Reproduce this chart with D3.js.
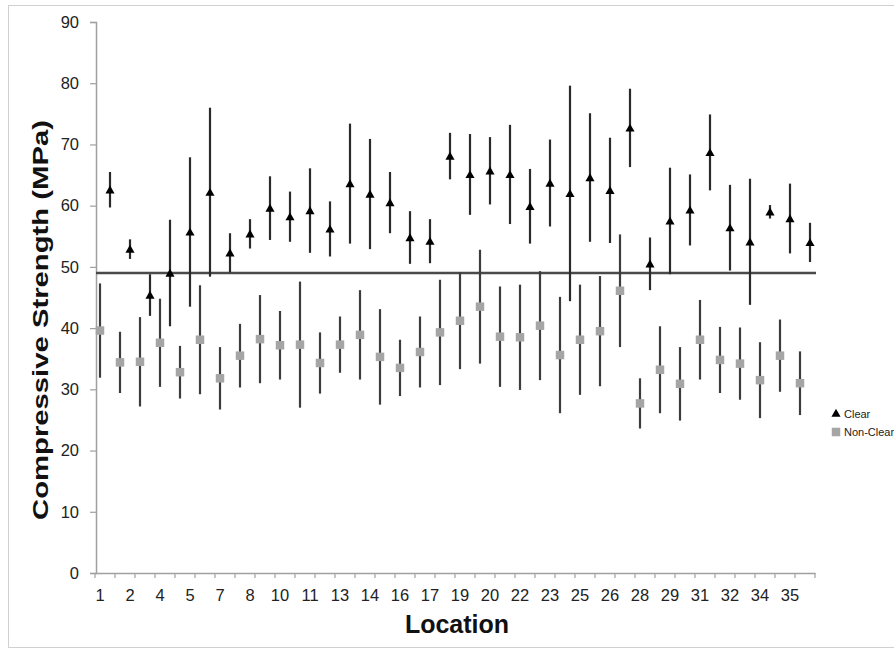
<!DOCTYPE html>
<html>
<head>
<meta charset="utf-8">
<script src="https://cdn.jsdelivr.net/npm/d3@7"></script>
<style>
  body { margin: 0; background: #fff; }
  svg text { font-family: "Liberation Sans", Arial, sans-serif; }
</style>
</head>
<body>
<div class="canvas"></div>
<script>
// location numbers
const locations = [1, 2, 3, 4, 5, 6, 7, 8, 9, 10, 11, 12, 13, 14, 15, 16, 17, 18,
    19, 20, 21, 22, 23, 24, 25, 26, 27, 28, 29, 30, 31, 32, 33, 34, 35, 36];

// clear specimens: mean and +/- error (MPa)
const clearMean = [62.6, 52.9, 45.4, 49.0, 55.7, 62.2, 52.3, 55.4, 59.6, 58.2, 59.2, 56.2,
    63.6, 61.9, 60.5, 54.8, 54.2, 68.1, 65.1, 65.7, 65.1, 59.9, 63.7, 62.0,
    64.6, 62.5, 72.7, 50.5, 57.5, 59.3, 68.7, 56.4, 54.1, 59.0, 57.9, 54.0];
const clearErr = [2.9, 1.6, 3.4, 8.7, 12.2, 13.8, 3.2, 2.4, 5.2, 4.1, 6.9, 4.5,
    9.8, 9.0, 5.0, 4.3, 3.6, 3.8, 6.6, 5.5, 8.1, 6.1, 7.1, 17.6,
    10.5, 8.6, 6.4, 4.3, 8.7, 5.8, 6.2, 7.0, 10.3, 1.1, 5.7, 3.2];

// non-clear specimens
const nonClearMean = [39.6, 34.4, 34.5, 37.6, 32.8, 38.1, 31.8, 35.5, 38.2, 37.2, 37.3, 34.3,
    37.3, 38.9, 35.3, 33.5, 36.1, 39.3, 41.2, 43.5, 38.6, 38.5, 40.4, 35.6,
    38.1, 39.5, 46.1, 27.7, 33.2, 30.9, 38.1, 34.8, 34.2, 31.5, 35.5, 31.0];
const nonClearErr = [7.7, 5.0, 7.3, 7.2, 4.3, 8.9, 5.1, 5.2, 7.2, 5.6, 10.3, 5.0,
    4.6, 7.3, 7.8, 4.6, 5.8, 8.6, 7.9, 9.3, 8.2, 8.6, 8.9, 9.5,
    9.0, 9.0, 9.2, 4.1, 7.1, 6.0, 6.5, 5.4, 5.9, 6.2, 5.9, 5.2];

const refLine = 49.0;
const yTicks = [0, 10, 20, 30, 40, 50, 60, 70, 80, 90];

const dims = { width: 894, height: 654 };
const plot = { left: 95, right: 815, top: 22, bottom: 573 };

const svg = d3.select('.canvas')
    .append('svg')
    .attr('width', dims.width)
    .attr('height', dims.height);

// outer frame
svg.append('rect')
    .attr('x', 8.5).attr('y', 5.5)
    .attr('width', 900).attr('height', 642)
    .attr('fill', 'none')
    .attr('stroke', '#d0d0d0');

// two category slots per location: non-clear then clear
const cats = [];
locations.forEach(l => { cats.push(l + '-N'); cats.push(l + '-C'); });

const x = d3.scaleBand()
    .domain(cats)
    .range([plot.left, plot.right]);

const y = d3.scaleLinear()
    .domain([0, 90])
    .range([plot.bottom, plot.top]);

const cx = (loc, s) => x(loc + s) + x.bandwidth() / 2;

// y axis
const yAxis = svg.append('g')
    .attr('transform', `translate(${plot.left + 1}, 0)`)
    .call(d3.axisLeft(y).tickValues(yTicks).tickSize(6).tickPadding(11));
yAxis.select('.domain').attr('stroke', '#a0a0a0').attr('stroke-width', 1.5);
yAxis.selectAll('.tick line').attr('stroke', '#a0a0a0').attr('stroke-width', 1.2);
yAxis.selectAll('text')
    .attr('font-size', 16.5)
    .attr('fill', '#222');

// x axis: labels every third slot, tick marks every location
const xAxis = svg.append('g')
    .attr('transform', `translate(0, ${plot.bottom})`)
    .call(d3.axisBottom(x)
        .tickValues(cats.filter((d, i) => i % 3 === 0))
        .tickFormat(d => d.split('-')[0])
        .tickSize(0)
        .tickPadding(16)
        .tickSizeOuter(0));
xAxis.select('.domain').attr('stroke', '#a0a0a0').attr('stroke-width', 1.5);
xAxis.selectAll('text')
    .attr('font-size', 16.5)
    .attr('fill', '#222');

const tickPos = cats.filter((d, i) => i % 2 === 0).map(d => x(d)).concat([plot.right]);
xAxis.selectAll('line.mark')
    .data(tickPos)
    .enter().append('line')
    .attr('class', 'mark')
    .attr('x1', d => d).attr('x2', d => d)
    .attr('y1', 0).attr('y2', 5)
    .attr('stroke', '#a0a0a0')
    .attr('stroke-width', 1.2);

// reference line
svg.append('line')
    .attr('x1', plot.left + 1).attr('x2', plot.right + 1)
    .attr('y1', y(refLine)).attr('y2', y(refLine))
    .attr('stroke', '#4a4a4a')
    .attr('stroke-width', 2.5);

const graph = svg.append('g');

const clearData = locations.map((l, i) => ({ loc: l, mean: clearMean[i], err: clearErr[i] }));
const nonClearData = locations.map((l, i) => ({ loc: l, mean: nonClearMean[i], err: nonClearErr[i] }));

// error bars
graph.selectAll('line.errN')
    .data(nonClearData)
    .enter().append('line')
    .attr('class', 'errN')
    .attr('x1', d => cx(d.loc, '-N')).attr('x2', d => cx(d.loc, '-N'))
    .attr('y1', d => y(d.mean - d.err)).attr('y2', d => y(d.mean + d.err))
    .attr('stroke', '#3c3c3c')
    .attr('stroke-width', 2.2);

graph.selectAll('line.errC')
    .data(clearData)
    .enter().append('line')
    .attr('class', 'errC')
    .attr('x1', d => cx(d.loc, '-C')).attr('x2', d => cx(d.loc, '-C'))
    .attr('y1', d => y(d.mean - d.err)).attr('y2', d => y(d.mean + d.err))
    .attr('stroke', '#2a2a2a')
    .attr('stroke-width', 2.2);

// markers
const square = d3.symbol().type(d3.symbolSquare).size(72);
const triangle = d3.symbol().type(d3.symbolTriangle).size(36);

graph.selectAll('path.nonclear')
    .data(nonClearData)
    .enter().append('path')
    .attr('class', 'nonclear')
    .attr('d', square)
    .attr('transform', d => `translate(${cx(d.loc, '-N')}, ${y(d.mean)})`)
    .attr('fill', '#a5a5a5');

graph.selectAll('path.clear')
    .data(clearData)
    .enter().append('path')
    .attr('class', 'clear')
    .attr('d', triangle)
    .attr('transform', d => `translate(${cx(d.loc, '-C')}, ${y(d.mean) + 1})`)
    .attr('fill', '#000');

// legend, right of the plot (runs past the picture edge)
const legendGroup = svg.append('g')
    .attr('transform', 'translate(836, 414)');
legendGroup.append('path')
    .attr('d', triangle)
    .attr('fill', '#000');
legendGroup.append('text')
    .attr('x', 8).attr('y', 4)
    .attr('font-size', 11)
    .attr('fill', '#222')
    .text('Clear');
legendGroup.append('path')
    .attr('d', square)
    .attr('transform', 'translate(0, 18)')
    .attr('fill', '#a5a5a5');
legendGroup.append('text')
    .attr('x', 8).attr('y', 22)
    .attr('font-size', 11)
    .attr('fill', '#222')
    .text('Non-Clear');

// titles
svg.append('text')
    .attr('transform', 'translate(48, 320) rotate(-90)')
    .attr('text-anchor', 'middle')
    .attr('font-size', 22)
    .attr('font-weight', 'bold')
    .attr('fill', '#111')
    .attr('textLength', 400)
    .attr('lengthAdjust', 'spacingAndGlyphs')
    .text('Compressive Strength (MPa)');

svg.append('text')
    .attr('x', 457).attr('y', 633)
    .attr('text-anchor', 'middle')
    .attr('font-size', 25)
    .attr('font-weight', 'bold')
    .attr('fill', '#111')
    .text('Location');
</script>
</body>
</html>
